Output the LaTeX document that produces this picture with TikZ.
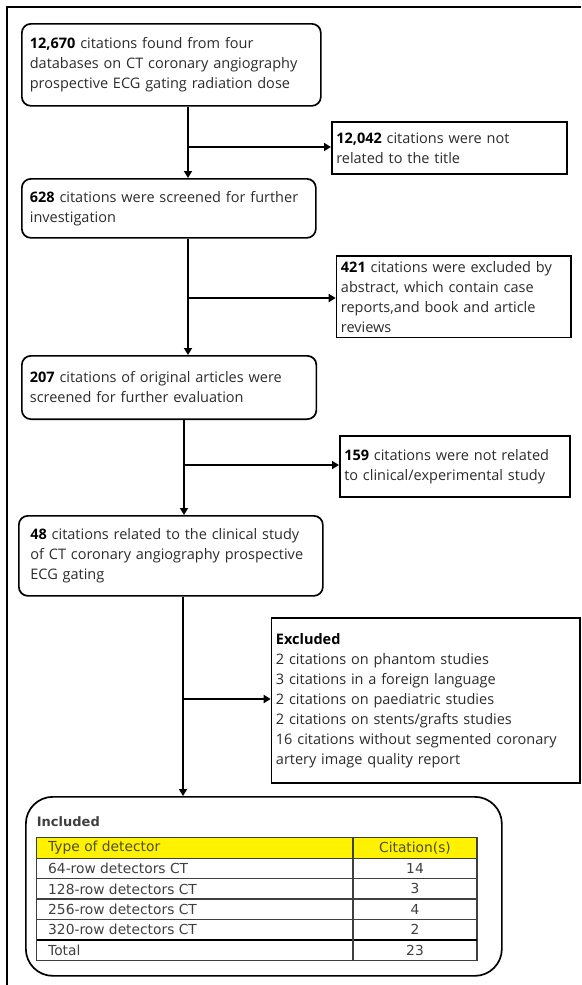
\documentclass[tikz,border=0pt]{standalone}
\usepackage{fontspec}
\setmainfont{Open Sans}
\newfontfamily\tabfont{DejaVu Sans}
\usetikzlibrary{arrows.meta}
\definecolor{txt}{HTML}{2B2B2B}
\definecolor{tabtxt}{HTML}{3F3F3F}
\definecolor{hdr}{HTML}{FFF200}
\definecolor{hdrtxt}{HTML}{4D4D26}
\newcommand\bnum[1]{\textbf{\color{black}#1}}
\tikzset{
  mainfont/.style={font=\fontsize{14.5}{20}\selectfont, text=txt},
  rbox/.style={draw=black, line width=1.7pt, rounded corners=9pt, anchor=north west,
    inner xsep=8pt, inner ysep=0pt, align=left, mainfont},
  sbox/.style={draw=black, line width=1.5pt, anchor=north west,
    inner xsep=4.5pt, inner ysep=0pt, align=left, mainfont},
  arr/.style={line width=1.9pt, -{Triangle[length=7pt,width=8pt]}},
  tabline/.style={draw=tabtxt, line width=1.1pt},
  tabcell/.style={font=\tabfont\fontsize{13.8}{16}\selectfont, text=tabtxt, inner sep=0pt},
}
\begin{document}
\begin{tikzpicture}[x=1pt,y=-1pt]
\useasboundingbox (0,0) rectangle (581,985);
% outer frame
\draw[line width=1.3pt] (7,985) -- (7,7) -- (581,7);

% main column
\node[rbox, text width=283pt, minimum height=82pt] (b1) at (21,23)
  {\bnum{12,670} citations found from four\\databases on CT coronary angiography\\prospective ECG gating radiation dose};
\node[rbox, text width=278pt, minimum height=59pt] (b2) at (21,178)
  {\bnum{628} citations were screened for further\\investigation};
\node[rbox, text width=278.5pt, minimum height=63.3pt] (b3) at (21,355)
  {\bnum{207} citations of original articles were\\screened for further evaluation};
\node[rbox, inner xsep=11.5pt, text width=281pt, minimum height=80pt] (b4) at (18,515)
  {\bnum{48} citations related to the clinical study\\of CT coronary angiography prospective\\ECG gating};
\node[draw=black, line width=1.7pt, rounded corners=27pt, anchor=north west,
  minimum width=476pt, minimum height=179pt, inner sep=0pt] (inc) at (25,796) {};

% side boxes
\node[sbox, text width=226pt, minimum height=52pt] (r1) at (331,121)
  {\bnum{12,042} citations were not\\related to the title};
\node[sbox, text width=225.3pt, minimum height=81.7pt] (r2) at (335.7,255)
  {\bnum{421} citations were excluded by\\abstract, which contain case\\reports,and book and article\\reviews};
\node[sbox, text width=221.3pt, minimum height=61pt] (r3) at (339,435)
  {\bnum{159} citations were not related\\to clinical/experimental study};
\node[sbox, text width=299.3pt, minimum height=165pt] (r4) at (270.7,617)
  {\bnum{Excluded}\\2 citations on phantom studies\\3 citations in a foreign language\\2 citations on paediatric studies\\2 citations on stents/grafts studies\\16 citations without segmented coronary\\artery image quality report};

% junctions
\coordinate (c1) at (188,147);
\coordinate (c2) at (188,298);
\coordinate (c3) at (184,465);
\coordinate (c4) at (183,699);

\draw[arr] (b1.south -| c1) -- (b2.north -| c1);
\draw[arr] (c1) -- (c1 -| r1.west);
\draw[arr] (b2.south -| c2) -- (b3.north -| c2);
\draw[arr] (c2) -- (c2 -| r2.west);
\draw[arr] (b3.south -| c3) -- (b4.north -| c3);
\draw[arr] (c3) -- (c3 -| r3.west);
\draw[arr] (b4.south -| c4) -- (inc.north -| c4);
\draw[arr] (c4) -- (c4 -| r4.west);

% included table
\node[anchor=west, inner sep=0pt, text=tabtxt, font=\tabfont\bfseries\fontsize{13}{16}\selectfont] (inctitle) at (36.7,822) {Included};
\fill[hdr] (36.7,837.3) rectangle (477,858.3);
\draw[tabline] (36.7,837.3) rectangle (477,960.7);
\draw[tabline] (36.7,858.3) -- (477,858.3);
\draw[tabline] (36.7,878.7) -- (477,878.7);
\draw[tabline] (36.7,899) -- (477,899);
\draw[tabline] (36.7,919.3) -- (477,919.3);
\draw[draw=black, line width=2pt] (36.7,940) -- (477,940);
\draw[tabline] (353,837.3) -- (353,960.7);

\node[tabcell, anchor=west, text=hdrtxt] (h1) at (48,847.8) {Type of detector};
\node[tabcell, text=hdrtxt] (h2) at (415,847.8) {Citation(s)};
\node[tabcell, anchor=west] (a1) at (48,868.5) {64-row detectors CT};
\node[tabcell] (v1) at (415,868.5) {14};
\node[tabcell, anchor=west] (a2) at (48,888.9) {128-row detectors CT};
\node[tabcell] (v2) at (415,888.9) {3};
\node[tabcell, anchor=west] (a3) at (48,909.2) {256-row detectors CT};
\node[tabcell] (v3) at (415,909.2) {4};
\node[tabcell, anchor=west] (a4) at (48,929.7) {320-row detectors CT};
\node[tabcell] (v4) at (415,929.7) {2};
\node[tabcell, anchor=west] (a5) at (48,950.4) {Total};
\node[tabcell] (v5) at (415,950.4) {23};
\end{tikzpicture}
\end{document}
